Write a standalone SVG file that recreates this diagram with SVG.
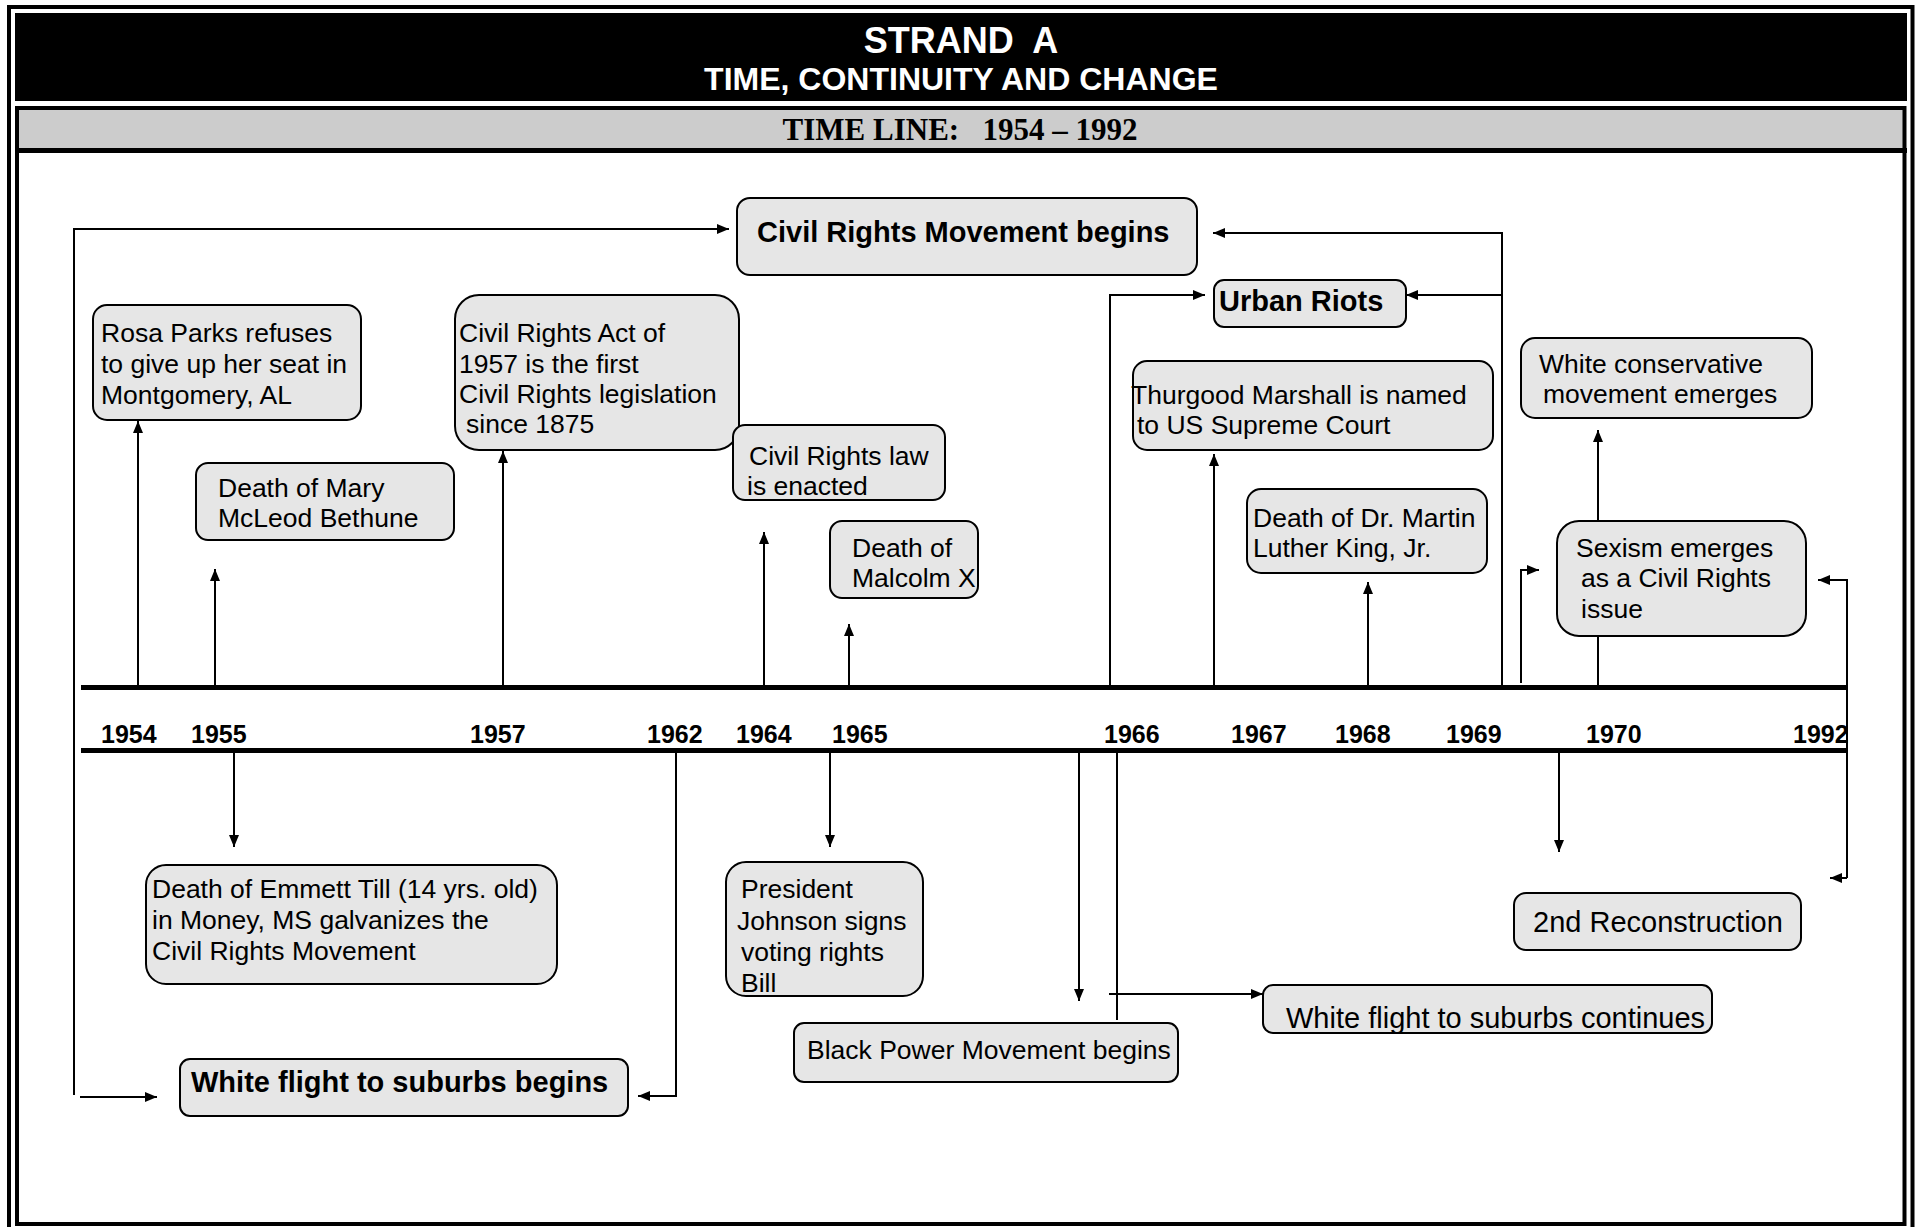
<svg xmlns="http://www.w3.org/2000/svg" width="1919" height="1227" viewBox="0 0 1919 1227">
<defs>
<marker id="ah" viewBox="0 0 12 10" refX="12" refY="5" markerWidth="12" markerHeight="10" markerUnits="userSpaceOnUse" orient="auto"><path d="M0,0 L12,5 L0,10 z" fill="#000"/></marker>
<style>
.box{fill:#e6e6e6;stroke:#000;stroke-width:2}
.t{font-family:"Liberation Sans",Arial,sans-serif;font-size:26.5px;fill:#000}
.b{font-weight:bold;font-size:29px}
.l{font-size:29px}
.yr{font-family:"Liberation Sans",Arial,sans-serif;font-weight:bold;font-size:25px;fill:#000}
.c{fill:none;stroke:#000;stroke-width:2}
.a{marker-end:url(#ah)}
.tl{stroke:#000;stroke-width:5}
</style>
</defs>
<rect width="1919" height="1227" fill="#fff"/>
<g id="frame">
<rect x="9" y="7" width="1903.5" height="1240" fill="none" stroke="#000" stroke-width="4"/>
<rect x="15" y="13" width="1892" height="88" fill="#000"/>
<rect x="19" y="110" width="1884" height="39" fill="#ccc"/>
<rect x="17" y="108" width="1887.5" height="1116" fill="none" stroke="#000" stroke-width="4"/>
<line x1="15" y1="150.5" x2="1907" y2="150.5" stroke="#000" stroke-width="5"/>
<text x="961" y="53" text-anchor="middle" font-family="Liberation Sans, Arial, sans-serif" font-weight="bold" font-size="36" fill="#fff" xml:space="preserve">STRAND  A</text>
<text x="961" y="90" text-anchor="middle" font-family="Liberation Sans, Arial, sans-serif" font-weight="bold" font-size="32" fill="#fff">TIME, CONTINUITY AND CHANGE</text>
<text x="960" y="140" text-anchor="middle" font-family="Liberation Serif, Times New Roman, serif" font-weight="bold" font-size="31" fill="#000" xml:space="preserve">TIME LINE:   1954 – 1992</text>
</g>
<g id="timeline">
<line class="tl" x1="81" y1="687.5" x2="1847" y2="687.5"/>
<line class="tl" x1="81" y1="750.5" x2="1847" y2="750.5"/>
<text class="yr" x="101" y="743">1954</text>
<text class="yr" x="191" y="743">1955</text>
<text class="yr" x="470" y="743">1957</text>
<text class="yr" x="647" y="743">1962</text>
<text class="yr" x="736" y="743">1964</text>
<text class="yr" x="832" y="743">1965</text>
<text class="yr" x="1104" y="743">1966</text>
<text class="yr" x="1231" y="743">1967</text>
<text class="yr" x="1335" y="743">1968</text>
<text class="yr" x="1446" y="743">1969</text>
<text class="yr" x="1586" y="743">1970</text>
<text class="yr" x="1793" y="743">1992</text>
</g>
<g id="connectors">
<path class="c a" d="M138,687 V421"/>
<path class="c a" d="M215,687 V569"/>
<path class="c a" d="M503,687 V451"/>
<path class="c a" d="M764,687 V532"/>
<path class="c a" d="M849,687 V624"/>
<path class="c a" d="M1110,687 V295 H1205"/>
<path class="c a" d="M1214,687 V454"/>
<path class="c a" d="M1368,687 V582"/>
<path class="c a" d="M1502,687 V233 H1213"/>
<path class="c a" d="M1502,295 H1406"/>
<path class="c a" d="M1521,683 V570 H1539"/>
<path class="c a" d="M1598,687 V430"/>
<path class="c a" d="M1847,878 V580 H1818"/>
<path class="c a" d="M1847,878 H1830"/>
<path class="c a" d="M234,751 V847"/>
<path class="c a" d="M676,751 V1096 H638"/>
<path class="c a" d="M74,1095 V229 H729"/>
<path class="c a" d="M80,1097 H157"/>
<path class="c a" d="M830,751 V847"/>
<path class="c a" d="M1079,751 V1001"/>
<path class="c" d="M1117,751 V1020"/>
<path class="c a" d="M1109,994 H1263"/>
<path class="c a" d="M1559,751 V852"/>
</g>
<g id="n-rosa"><rect class="box" x="93" y="305" width="268" height="115" rx="14"/>
<text class="t"><tspan x="101" y="342">Rosa Parks refuses</tspan><tspan x="101" y="373">to give up her seat in</tspan><tspan x="101" y="404">Montgomery, AL</tspan></text></g>
<g id="n-bethune"><rect class="box" x="196" y="463" width="258" height="77" rx="12"/>
<text class="t"><tspan x="218" y="497">Death of Mary</tspan><tspan x="218" y="527">McLeod Bethune</tspan></text></g>
<g id="n-cra"><rect class="box" x="455" y="295" width="284" height="155" rx="24"/>
<text class="t"><tspan x="459" y="342">Civil Rights Act of</tspan><tspan x="459" y="373">1957 is the first</tspan><tspan x="459" y="403">Civil Rights legislation</tspan><tspan x="466" y="433">since 1875</tspan></text></g>
<g id="n-crlaw"><rect class="box" x="733" y="425" width="212" height="75" rx="12"/>
<text class="t"><tspan x="749" y="465">Civil Rights law</tspan><tspan x="747" y="495">is enacted</tspan></text></g>
<g id="n-malcolm"><rect class="box" x="830" y="521" width="148" height="77" rx="12"/>
<text class="t"><tspan x="852" y="557">Death of</tspan><tspan x="852" y="587">Malcolm X</tspan></text></g>
<g id="n-crm"><rect class="box" x="737" y="198" width="460" height="77" rx="13"/>
<text class="t b" x="757" y="242">Civil Rights Movement begins</text></g>
<g id="n-riots"><rect class="box" x="1214" y="280" width="192" height="47" rx="10"/>
<text class="t b" x="1219" y="311">Urban Riots</text></g>
<g id="n-thurgood"><rect class="box" x="1133" y="361" width="360" height="89" rx="14"/>
<text class="t"><tspan x="1131" y="404">Thurgood Marshall is named</tspan><tspan x="1137" y="434">to US Supreme Court</tspan></text></g>
<g id="n-mlk"><rect class="box" x="1247" y="489" width="240" height="84" rx="14"/>
<text class="t"><tspan x="1253" y="527">Death of Dr. Martin</tspan><tspan x="1253" y="557">Luther King, Jr.</tspan></text></g>
<g id="n-conserv"><rect class="box" x="1521" y="338" width="291" height="80" rx="14"/>
<text class="t"><tspan x="1539" y="373">White conservative</tspan><tspan x="1543" y="403">movement emerges</tspan></text></g>
<g id="n-sexism"><rect class="box" x="1557" y="521" width="249" height="115" rx="22"/>
<text class="t"><tspan x="1576" y="557">Sexism emerges</tspan><tspan x="1581" y="587">as a Civil Rights</tspan><tspan x="1581" y="618">issue</tspan></text></g>
<g id="n-till"><rect class="box" x="146" y="865" width="411" height="119" rx="20"/>
<text class="t"><tspan x="152" y="898">Death of Emmett Till (14 yrs. old)</tspan><tspan x="152" y="929">in Money, MS galvanizes the</tspan><tspan x="152" y="960">Civil Rights Movement</tspan></text></g>
<g id="n-wfbegins"><rect class="box" x="180" y="1059" width="448" height="57" rx="10"/>
<text class="t b" x="191" y="1092">White flight to suburbs begins</text></g>
<g id="n-johnson"><rect class="box" x="726" y="862" width="197" height="134" rx="20"/>
<text class="t"><tspan x="741" y="898">President</tspan><tspan x="737" y="930">Johnson signs</tspan><tspan x="741" y="961">voting rights</tspan><tspan x="741" y="992">Bill</tspan></text></g>
<g id="n-blackpower"><rect class="box" x="794" y="1023" width="384" height="59" rx="10"/>
<text class="t" x="807" y="1059">Black Power Movement begins</text></g>
<g id="n-wfcont"><rect class="box" x="1263" y="985" width="449" height="48" rx="10"/>
<text class="t l" x="1286" y="1028">White flight to suburbs continues</text></g>
<g id="n-recon"><rect class="box" x="1514" y="893" width="287" height="57" rx="12"/>
<text class="t l" x="1533" y="932">2nd Reconstruction</text></g>
</svg>
